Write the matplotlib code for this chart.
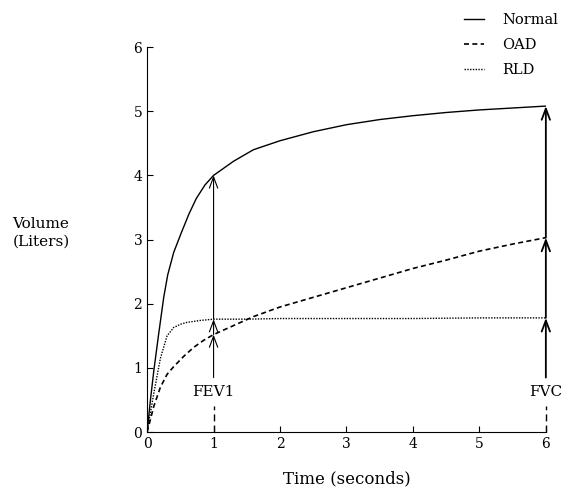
import matplotlib.pyplot as plt
import numpy as np

# Datos
t_normal = [0, 0.05, 0.1, 0.17, 0.25, 0.31, 0.4, 0.52, 0.63, 0.74, 0.87, 1.0, 1.3, 1.6, 2.0, 2.5, 3.0, 3.5, 4.0, 4.5, 5.0, 5.5, 6.0]
v_normal = [0, 0.5, 0.95, 1.5, 2.1, 2.45, 2.8, 3.12, 3.4, 3.64, 3.85, 4.0, 4.22, 4.4, 4.54, 4.68, 4.79, 4.87, 4.93, 4.98, 5.02, 5.05, 5.08]

t_oad = [0, 0.1, 0.2, 0.3, 0.4, 0.55, 0.7, 0.85, 1.0, 1.3, 1.6, 2.0, 2.5, 3.0, 3.5, 4.0, 4.5, 5.0, 5.5, 6.0]
v_oad = [0, 0.4, 0.7, 0.9, 1.02, 1.18, 1.32, 1.43, 1.52, 1.66, 1.8, 1.95, 2.1, 2.25, 2.4, 2.55, 2.68, 2.82, 2.93, 3.03]

t_rld = [0, 0.1, 0.2, 0.3, 0.4, 0.5, 0.6, 0.8, 1.0, 1.5, 2.0, 3.0, 4.0, 5.0, 6.0]
v_rld = [0, 0.6, 1.15, 1.5, 1.63, 1.68, 1.71, 1.74, 1.76, 1.76, 1.77, 1.77, 1.77, 1.78, 1.78]

fev1_t = 1
fev1_vals = [1.52, 1.76, 4.0]
fvc_t = 6
fvc_vals = [1.78, 3.03, 5.08]

plt.rcParams['font.family'] = ['DejaVu Serif']

fig = plt.figure(figsize=(5.68, 4.95), dpi=100)
ax = fig.add_axes([0.259, 0.127, 0.702, 0.778])

ax.plot(t_normal, v_normal, color='black', lw=1.0, label='Normal')
ax.plot(t_oad, v_oad, color='black', lw=1.2, ls=(0, (3, 2)), label='OAD')
ax.plot(t_rld, v_rld, color='black', lw=1.0, ls=(0, (1, 1)), label='RLD')

# Flechas FEV1 y FVC
def flechas(x, vals, lw, label):
    ax.plot([x, x], [0, 0.4], color='black', lw=1.0, ls=(0, (5, 3)), clip_on=False)
    ax.text(x, 0.62, label, ha='center', va='center', fontsize=11)
    inicio = 0.85
    for v in vals:
        ax.annotate('', xy=(x, v), xytext=(x, inicio), annotation_clip=False,
                    arrowprops=dict(arrowstyle='->,head_length=0.8,head_width=0.3',
                                    lw=lw, color='black', shrinkA=0, shrinkB=0))
        inicio = v

flechas(fev1_t, fev1_vals, 0.8, 'FEV1')
flechas(fvc_t, fvc_vals, 1.3, 'FVC')

ax.set_xlim(0, 6)
ax.set_ylim(0, 6)
ax.set_xticks(range(7))
ax.set_yticks(range(7))
ax.spines['top'].set_visible(False)
ax.spines['right'].set_visible(False)
ax.tick_params(direction='in', length=4, labelsize=10)
ax.set_xlabel('Time (seconds)', fontsize=12, labelpad=14)
fig.text(0.072, 0.53, 'Volume\n(Liters)', fontsize=11, ha='center', va='center', linespacing=1.3)

fig.legend(loc='upper right', bbox_to_anchor=(1.005, 1.0), frameon=False, fontsize=10.5,
           handlelength=1.4, handletextpad=1.2, labelspacing=0.75)

plt.savefig('out.png', dpi=100)
